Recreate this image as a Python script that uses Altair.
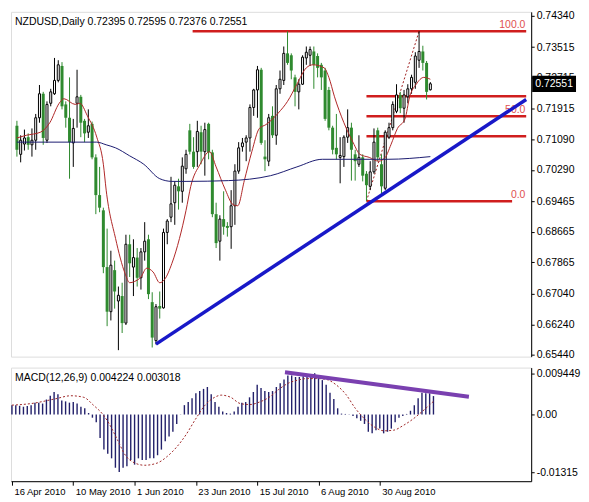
import altair as alt
import pandas as pd

# ---------------- data ----------------
opens = [0.7145,0.7070,0.7097,0.7115,0.7095,0.7107,0.7166,0.7229,0.7107,0.7204,
0.7229,0.7264,0.7302,0.7201,0.7166,0.7100,0.7204,0.7221,0.7158,0.7128,
0.7150,0.7062,0.6963,0.6923,0.6774,0.6657,0.6766,0.6685,0.6698,0.6627,
0.6834,0.6774,0.6799,0.6746,0.6814,0.6847,0.6682,0.6581,0.6672,0.6667,
0.6865,0.6905,0.6943,0.6986,0.6973,0.7032,0.7133,0.7077,0.7077,0.7128,
0.7077,0.7150,0.7075,0.6913,0.6842,0.6900,0.6882,0.6880,0.6935,0.7026,
0.7090,0.7102,0.7113,0.7193,0.7239,0.7292,0.7064,0.7052,0.7171,0.7120,
0.7242,0.7264,0.7335,0.7330,0.7272,0.7234,0.7254,0.7323,0.7330,0.7340,
0.7328,0.7305,0.7290,0.7239,0.7140,0.7087,0.7062,0.7064,0.7115,0.7140,
0.7070,0.7044,0.7062,0.7019,0.6986,0.7024,0.7133,0.7044,0.6981,0.7115,
0.7140,0.7183,0.7226,0.7191,0.7221,0.7242,0.7259,0.7317,0.7340,0.7310,
0.72395]
highs = [0.7158,0.7120,0.7135,0.7125,0.7138,0.7176,0.7252,0.7234,0.7209,0.7242,
0.7323,0.7317,0.7312,0.7209,0.7272,0.7163,0.7292,0.7226,0.7163,0.7188,
0.7156,0.7070,0.7037,0.6930,0.6875,0.6817,0.6791,0.6723,0.6733,0.6859,
0.6859,0.6847,0.6824,0.6824,0.6892,0.6859,0.6708,0.6677,0.6710,0.6875,
0.6900,0.7011,0.6999,0.7006,0.7062,0.7082,0.7150,0.7115,0.7158,0.7145,
0.7153,0.7153,0.7082,0.6943,0.6910,0.6973,0.6892,0.6976,0.7044,0.7102,
0.7113,0.7120,0.7201,0.7242,0.7302,0.7297,0.7107,0.7176,0.7196,0.7252,
0.7290,0.7353,0.7393,0.7335,0.7279,0.7267,0.7330,0.7353,0.7353,0.7353,
0.7335,0.7310,0.7297,0.7247,0.7145,0.7176,0.7115,0.7120,0.7188,0.7153,
0.7082,0.7120,0.7070,0.7026,0.7052,0.7138,0.7140,0.7070,0.7133,0.7153,
0.7209,0.7254,0.7234,0.7239,0.7254,0.7279,0.7338,0.7393,0.7355,0.7315,
0.72595]
lows = [0.7064,0.7049,0.7080,0.7082,0.7064,0.7082,0.7153,0.7095,0.7100,0.7196,
0.7226,0.7259,0.7188,0.7140,0.7006,0.7037,0.7140,0.7115,0.7102,0.7113,
0.7057,0.6913,0.6918,0.6758,0.6619,0.6634,0.6665,0.6556,0.6601,0.6622,
0.6748,0.6698,0.6723,0.6715,0.6791,0.6690,0.6563,0.6571,0.6639,0.6665,
0.6834,0.6892,0.6885,0.6925,0.6943,0.7019,0.7070,0.7032,0.7037,0.7044,
0.7014,0.7057,0.6905,0.6824,0.6791,0.6859,0.6854,0.6822,0.6885,0.7019,
0.7077,0.7052,0.7077,0.7171,0.7166,0.7095,0.7026,0.7039,0.7113,0.7095,
0.7229,0.7252,0.7305,0.7267,0.7196,0.7188,0.7252,0.7305,0.7302,0.7242,
0.7272,0.7239,0.7158,0.7133,0.7070,0.7057,0.6994,0.7037,0.7100,0.7001,
0.7001,0.7037,0.6999,0.6948,0.6976,0.7019,0.7052,0.6963,0.6976,0.7110,
0.7133,0.7178,0.7178,0.7153,0.7204,0.7229,0.7242,0.7297,0.7290,0.7214,
0.72376]
closes = [0.7082,0.7107,0.7113,0.7095,0.7107,0.7166,0.7229,0.7113,0.7201,0.7234,
0.7264,0.7305,0.7196,0.7166,0.7102,0.7138,0.7221,0.7153,0.7125,0.7145,
0.7062,0.6963,0.6930,0.6774,0.6657,0.6779,0.6710,0.6700,0.6627,0.6834,
0.6784,0.6799,0.6746,0.6814,0.6842,0.6703,0.6589,0.6670,0.6665,0.6865,
0.6895,0.6940,0.6989,0.6973,0.7039,0.7070,0.7077,0.7037,0.7130,0.7077,
0.7135,0.7075,0.6913,0.6837,0.6900,0.6880,0.6877,0.6935,0.7026,0.7087,
0.7100,0.7113,0.7193,0.7239,0.7292,0.7100,0.7057,0.7166,0.7120,0.7242,
0.7267,0.7335,0.7310,0.7290,0.7234,0.7254,0.7325,0.7338,0.7345,0.7305,
0.7297,0.7272,0.7163,0.7140,0.7082,0.7070,0.7067,0.7115,0.7140,0.7082,
0.7052,0.7062,0.7014,0.6989,0.7024,0.7102,0.7062,0.6986,0.7128,0.7140,
0.7201,0.7226,0.7191,0.7226,0.7242,0.7272,0.7328,0.7340,0.7310,0.7234,
0.72551]

# fast (red) moving average, sampled at bar positions
fast_i = [0,2.5,6.25,8.75,11.25,12.5,15.5,16.75,18.75,21.25,23,23.75,26.25,28.75,30,
          31.25,33,34.5,36.25,38,39.25,41.25,43.25,45,46.25,48.75,51.25,53,55.5,57.5,
          58.75,60.5,62.5,64.5,66.25,69.5,72,74.5,77,78.75,81.75,83,84.5,87,89.5,
          91.25,93.75,96.25,98,99.5,101.25,103.25,104.5,106.25,108.25,110]
fast_v = [0.7113,0.7120,0.7128,0.7153,0.7204,0.7216,0.7201,0.7204,0.7171,0.7115,0.7044,0.6976,0.6849,0.6758,0.6733,
          0.6736,0.6748,0.6771,0.6761,0.6733,0.6741,0.6784,0.6849,0.6923,0.6986,0.7044,0.7077,0.7037,0.6976,0.6938,
          0.6935,0.7001,0.7077,0.7138,0.7148,0.7178,0.7209,0.7254,0.7297,0.7305,0.7297,0.7272,0.7221,0.7153,0.7100,
          0.7070,0.7062,0.7052,0.7062,0.7095,0.7138,0.7163,0.7221,0.7254,0.7272,0.7267]
# slow (navy) moving average
slow_i = [0,21.25,23.75,26.25,30,33.75,38,41.25,45,56.25,67.5,74.5,81.25,90,98.75,110]
slow_v = [0.7102,0.7102,0.7095,0.7087,0.7066,0.7044,0.7006,0.6999,0.6999,0.7001,0.7014,0.7037,0.7057,0.7057,0.7057,0.7064]

# MACD histogram (main line) and signal
macd = [0.00215,0.00215,0.00200,0.00179,0.00193,0.00215,0.00272,0.00272,0.00251,0.00344,
0.00430,0.00516,0.00465,0.00322,0.00301,0.00272,0.00286,0.00251,0.00179,0.00143,
0.00036,-0.00072,-0.00179,-0.00537,-0.00802,-0.00895,-0.01002,-0.01217,-0.01315,-0.01217,
-0.01181,-0.01038,-0.01146,-0.01002,-0.01038,-0.01038,-0.01002,-0.01002,-0.00931,-0.00802,
-0.00609,-0.00501,-0.00394,-0.00215,0.00005,0.00215,0.00286,0.00372,0.00487,0.00537,
0.00587,0.00630,0.00465,0.00286,0.00179,0.00072,0.00036,0.00021,0.00072,0.00179,
0.00272,0.00286,0.00394,0.00516,0.00680,0.00609,0.00537,0.00516,0.00537,0.00630,
0.00716,0.00802,0.00895,0.00895,0.00859,0.00859,0.00874,0.00859,0.00874,0.00945,
0.00874,0.00788,0.00680,0.00501,0.00358,0.00143,0.00021,0.00014,0.00005,-0.00036,
-0.00086,-0.00143,-0.00215,-0.00394,-0.00430,-0.00358,-0.00322,-0.00430,-0.00394,-0.00322,
-0.00179,-0.00072,-0.00036,0.00014,0.00086,0.00215,0.00372,0.00501,0.00487,0.00487,
0.004224]
sig_i = [0,5,11.25,15.4,18.75,21.25,23.75,25.4,27.5,29.6,32.1,34.6,37.9,40.4,42.9,
         45.4,47.9,50.4,52.9,54.6,57.1,59.6,62.1,64.6,67.1,69.6,72.1,74.6,77.1,79.6,
         82.1,84.6,87.1,89.6,92.1,94.6,97.1,99.6,102.1,104.6,107.1,110]
sig_v = [0.00215,0.00251,0.00358,0.00430,0.00394,0.00215,0.0,-0.00215,-0.00573,-0.00931,
         -0.01110,-0.01160,-0.01110,-0.00967,-0.00752,-0.00465,-0.00107,0.00215,0.00394,0.00444,
         0.00394,0.00251,0.00229,0.00286,0.00394,0.00573,0.00716,0.00788,0.00823,0.00823,
         0.00802,0.00680,0.00465,0.00143,-0.00107,-0.00286,-0.00372,-0.00358,-0.00251,-0.00107,
         0.00072,0.003018]

# drawn objects
fib_levels = [0.7393, 0.72226, 0.7170, 0.71174, 0.6947]
fib_from = [46.75, 93, 93, 93, 93]
fib_to = [135.5, 135.5, 135.5, 135.5, 131.75]
fib_text = ["100.0", "50.0", "0.0"]
fib_text_levels = [0.7393, 0.7170, 0.6947]
fib_diag_i = [93, 107]
fib_diag_p = [0.6947, 0.7393]
trend_i = [37, 135.5]
trend_p = [0.65718, 0.72140]
macd_trend_i = [71.25, 119.25]
macd_trend_v = [0.00966, 0.00408]

price_ticks = [0.74340, 0.73515, 0.72715, 0.71915, 0.71090, 0.70290, 0.69465,
               0.68665, 0.67865, 0.67040, 0.66240, 0.65440]
date_ticks = [0, 16, 32, 48, 64, 80, 96]
date_labels = ["16 Apr 2010", "10 May 2010", "1 Jun 2010", "23 Jun 2010",
               "15 Jul 2010", "6 Aug 2010", "30 Aug 2010"]
header = "NZDUSD,Daily  0.72395 0.72595 0.72376 0.72551"
macd_header = "MACD(12,26,9) 0.004224 0.003018"

# ---------------- chart ----------------
FONT = "Liberation Sans"
FS = 10.5
GREEN = "#2f8a2f"
W, H1, H2 = 522, 346, 114

n = len(closes)
candles = pd.DataFrame({"i": list(range(n)), "open": opens, "high": highs,
                        "low": lows, "close": closes})
candles["dir"] = ["up" if c >= o else "down" for o, c in zip(opens, closes)]
candles["lo"] = candles[["open", "close"]].min(axis=1)
candles["hi"] = candles[["open", "close"]].max(axis=1)

XS = alt.Scale(domain=[-0.25, 135.5], nice=False, zero=False)
YS = alt.Scale(domain=[0.6539, 0.7444], nice=False, zero=False)
MS = alt.Scale(domain=[-0.01525, 0.01074], nice=False, zero=False)

yax = alt.Axis(orient="right", values=price_ticks, format=".5f", grid=False,
               tickSize=3, tickColor="black", domainColor="black",
               labelColor="black", labelFont=FONT, labelFontSize=FS,
               labelPadding=2, labelOverlap=False)
max_ = alt.Axis(orient="right", values=[0.009449, 0, -0.01315], grid=False,
                labelExpr="datum.value == 0 ? '0.00' : (datum.value > 0 ? '0.009449' : '-0.01315')",
                tickSize=3, tickColor="black", domainColor="black",
                labelColor="black", labelFont=FONT, labelFontSize=FS,
                labelPadding=2, labelOverlap=False)
xax = alt.Axis(values=date_ticks, grid=False, tickSize=4, tickColor="black",
               domainColor="black", labelColor="black", labelFont=FONT,
               labelFontSize=9.5, labelAlign="left", labelOffset=2,
               labelPadding=1, labelFlush=False, labelOverlap=False,
               labelExpr="[" + ",".join("'%s'" % d for d in date_labels) + "][datum.value / 16]")

X = lambda f: alt.X(f, scale=XS, axis=None, title=None)
Y = lambda f: alt.Y(f, scale=YS, axis=yax, title=None)

fib_df = pd.DataFrame({"a": fib_from, "b": fib_to, "p": fib_levels})
fib_rules = alt.Chart(fib_df).mark_rule(color="#d01e1e", strokeWidth=2.5).encode(
    x=X("a:Q"), x2="b:Q", y=Y("p:Q"))

diag = alt.Chart(pd.DataFrame({"i": fib_diag_i, "p": fib_diag_p})).mark_line(
    color="#a02020", strokeWidth=1, strokeDash=[2, 2]).encode(x=X("i:Q"), y=Y("p:Q"))

fib_lab = alt.Chart(pd.DataFrame({"i": [135.3] * 3, "p": fib_text_levels, "t": fib_text})).mark_text(
    align="right", baseline="bottom", dy=-1, color="#e05050", font=FONT, fontSize=FS).encode(
    x=X("i:Q"), y=Y("p:Q"), text="t:N")

wicks = alt.Chart(candles).mark_rule(strokeWidth=1).encode(
    x=X("i:Q"), y=Y("low:Q"), y2="high:Q",
    color=alt.Color("dir:N", scale=alt.Scale(domain=["up", "down"], range=["black", GREEN]), legend=None))

up_bodies = alt.Chart(candles).transform_filter("datum.dir == 'up'").mark_bar(
    size=2, fill="white", stroke="black", strokeWidth=1).encode(x=X("i:Q"), y=Y("lo:Q"), y2="hi:Q")
dn_bodies = alt.Chart(candles).transform_filter("datum.dir == 'down'").mark_bar(
    size=3, color=GREEN).encode(x=X("i:Q"), y=Y("lo:Q"), y2="hi:Q")

fast = alt.Chart(pd.DataFrame({"i": fast_i, "p": fast_v})).mark_line(
    color="#b02828", strokeWidth=1, interpolate="monotone").encode(x=X("i:Q"), y=Y("p:Q"))
slow = alt.Chart(pd.DataFrame({"i": slow_i, "p": slow_v})).mark_line(
    color="#1c1c70", strokeWidth=1, interpolate="monotone").encode(x=X("i:Q"), y=Y("p:Q"))

trend = alt.Chart(pd.DataFrame({"i": trend_i, "p": trend_p})).mark_line(
    color="#1818c8", strokeWidth=3.5).encode(x=X("i:Q"), y=Y("p:Q"))

head = alt.Chart(pd.DataFrame({"t": [header]})).mark_text(
    align="left", baseline="middle", font=FONT, fontSize=FS, color="black").encode(
    x=alt.value(4), y=alt.value(10), text="t:N")

BOX = "M-1,-0.34L1,-0.34L1,0.34L-1,0.34Z"
last = pd.DataFrame({"p": [closes[-1]], "t": ["%.5f" % closes[-1]]})
box = alt.Chart(last).mark_point(shape=BOX, filled=True, fill="black", stroke="black",
                                 opacity=1, size=42 * 42).encode(
    x=alt.value(W + 23), y=Y("p:Q"))
box_t = alt.Chart(last).mark_text(align="center", baseline="middle", color="white",
                                  font=FONT, fontSize=FS).encode(
    x=alt.value(W + 23), y=Y("p:Q"), text="t:N")

main = alt.layer(fib_rules, diag, wicks, up_bodies, dn_bodies, fast, slow, fib_lab,
                 trend, head, box, box_t).properties(width=W, height=H1)

XM = lambda f: alt.X(f, scale=XS, axis=xax, title=None)
YM = lambda f: alt.Y(f, scale=MS, axis=max_, title=None)

hist_df = pd.DataFrame({"i": list(range(n)), "m": macd, "z": [0.0] * n})
hist = alt.Chart(hist_df).mark_rule(color="#22206a", strokeWidth=1.4).encode(
    x=XM("i:Q"), y=YM("m:Q"), y2="z:Q")
sig = alt.Chart(pd.DataFrame({"i": sig_i, "v": sig_v})).mark_line(
    color="#a02828", strokeWidth=1, strokeDash=[2, 2], interpolate="monotone").encode(
    x=XM("i:Q"), y=YM("v:Q"))
mtrend = alt.Chart(pd.DataFrame({"i": macd_trend_i, "v": macd_trend_v})).mark_line(
    color="#7a40b0", strokeWidth=4).encode(x=XM("i:Q"), y=YM("v:Q"))
mhead = alt.Chart(pd.DataFrame({"t": [macd_header]})).mark_text(
    align="left", baseline="middle", font=FONT, fontSize=FS, color="black").encode(
    x=alt.value(4), y=alt.value(10), text="t:N")

macd_chart = alt.layer(hist, sig, mtrend, mhead).properties(width=W, height=H2)

chart = alt.vconcat(main, macd_chart, spacing=2).properties(
    padding={"left": 1, "top": 1, "right": 0, "bottom": 0},
    background="white",
).configure_view(stroke="black", strokeWidth=1).configure(font=FONT)

chart.save("out.html", embed_options={"renderer": "svg", "actions": False})
